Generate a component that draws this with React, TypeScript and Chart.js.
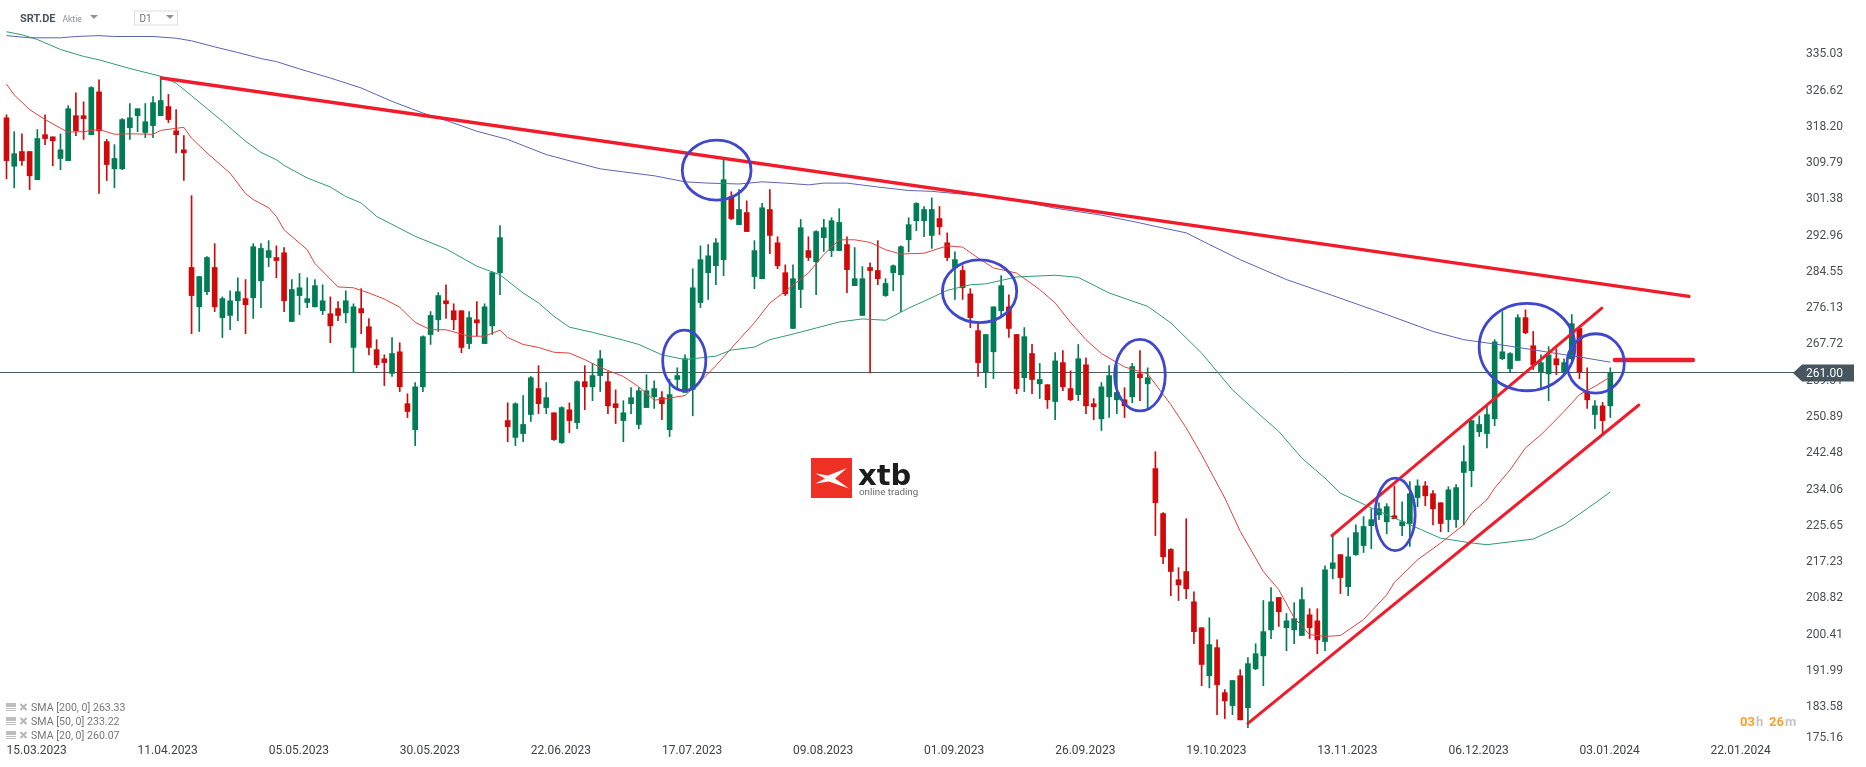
import React, { useEffect, useRef } from "react";
import { Chart, registerables } from "chart.js";

Chart.register(...registerables);

const dateLabels = ["15.03.2023","11.04.2023","05.05.2023","30.05.2023","22.06.2023","17.07.2023","09.08.2023","01.09.2023","26.09.2023","19.10.2023","13.11.2023","06.12.2023","03.01.2024","22.01.2024"];
const dateBars = [0,17,34,51,68,85,102,119,136,153,170,187,204,221];
const priceLabels = ["335.03","326.62","318.20","309.79","301.38","292.96","284.55","276.13","267.72","259.31","250.89","242.48","234.06","225.65","217.23","208.82","200.41","191.99","183.58","175.16"];
const priceTicks = [334.66,326.28,317.89,309.51,301.13,292.74,284.36,275.98,267.59,259.21,250.83,242.44,234.06,225.68,217.29,208.91,200.53,192.14,183.76,176.7];

const highs = [
320.7,316.8,316.3,312.2,317.3,320.7,315.6,316.3,322.8,325.8,
323.7,327.2,328.8,315.0,313.8,319.8,323.3,322.1,323.3,324.9,
329.5,325.4,321.9,315.9,302.0,283.3,287.9,290.9,278.6,280.0,
283.0,282.6,290.9,290.9,291.6,290.4,290.0,282.6,284.0,283.0,
282.6,281.4,278.6,277.5,280.0,277.0,280.5,273.6,268.7,265.2,
269.2,268.0,256.2,258.8,269.6,275.2,279.6,281.4,277.0,275.4,
275.2,277.5,277.0,284.4,295.1,254.1,254.1,255.8,260.2,262.7,
258.8,251.8,253.2,254.1,259.2,262.7,263.2,266.2,261.3,257.1,
254.6,257.6,257.6,260.6,259.2,256.7,259.5,262.2,265.2,285.1,
290.4,290.7,292.1,310.3,302.9,303.4,300.8,291.6,300.2,303.4,
292.5,286.0,286.0,296.5,292.5,293.9,296.5,296.9,299.0,292.5,
290.0,285.6,286.5,291.6,282.8,286.0,290.4,296.9,300.4,299.5,
301.5,299.5,293.4,289.0,285.8,280.5,272.4,269.9,276.3,283.5,
279.1,269.9,271.5,267.6,263.2,258.3,265.7,266.2,261.5,267.6,
264.5,255.1,258.8,262.7,262.9,257.6,263.2,266.2,262.2,242.8,
228.7,220.4,216.0,227.3,210.4,202.1,204.4,199.3,187.8,189.9,
192.4,195.2,198.4,208.4,211.4,209.1,205.4,207.9,211.4,206.5,
206.5,216.4,223.6,219.0,222.9,225.9,227.8,229.6,231.0,230.8,
234.9,231.2,235.9,236.3,235.9,233.8,231.0,234.7,235.2,244.2,
250.0,251.1,253.4,268.7,275.2,265.7,274.5,275.6,270.6,265.2,
267.1,266.6,264.3,274.5,271.3,262.2,254.6,254.2,262.2];

const lows = [
305.9,303.8,309.0,303.4,305.7,313.8,308.9,308.0,310.1,315.9,
315.0,316.1,302.5,305.5,303.8,308.0,315.0,316.8,315.4,315.4,
320.5,318.9,311.9,305.5,270.1,270.6,279.1,275.2,269.2,271.0,
273.1,270.1,273.6,276.1,285.6,283.0,275.2,272.9,274.5,276.1,
276.3,274.5,268.0,273.1,272.6,261.1,270.1,265.2,262.2,258.1,
260.2,256.7,250.7,244.2,256.7,267.6,270.6,273.6,271.0,265.7,
266.6,269.6,267.8,269.9,279.1,245.1,244.2,245.1,249.8,251.6,
251.6,245.4,244.7,247.2,248.1,252.5,254.6,256.7,251.6,249.3,
245.1,251.6,248.1,253.0,252.8,250.2,246.3,257.2,256.5,251.1,
276.1,278.0,281.4,283.5,296.4,295.3,293.7,280.5,282.8,288.6,
285.1,278.9,271.3,276.1,287.0,279.1,289.1,287.9,289.3,279.6,
281.2,274.3,261.0,281.4,278.7,280.0,275.2,289.0,293.9,292.5,
289.8,293.0,287.0,278.0,278.0,271.5,260.2,257.6,259.7,273.8,
269.2,256.2,256.7,256.2,255.1,252.8,250.2,256.9,254.6,254.6,
251.6,250.2,247.7,250.7,251.6,250.7,254.1,254.6,253.0,223.4,
216.9,209.5,208.4,208.8,198.4,188.7,188.2,182.0,181.1,182.0,
180.8,179.0,192.4,188.7,199.6,202.4,196.8,198.4,200.3,199.6,
196.1,196.8,213.4,210.0,209.5,218.8,219.5,220.4,227.1,223.8,
227.3,223.4,220.9,230.1,230.3,225.9,224.3,224.3,225.3,225.9,
234.7,246.3,243.7,248.8,264.1,261.1,263.9,270.1,261.8,257.4,
254.6,260.6,260.8,263.9,259.7,252.8,248.1,247.0,250.7];

const opens = [
320.0,308.8,312.2,312.2,305.7,316.1,315.6,310.6,310.1,320.5,
320.5,316.1,326.0,314.5,308.2,308.2,317.7,320.5,316.6,318.2,
320.5,322.6,317.0,312.6,285.4,276.3,279.8,285.4,273.8,274.3,
277.7,278.2,278.4,282.3,287.7,287.7,288.8,272.9,278.9,277.3,
276.3,275.4,274.7,275.9,274.9,266.9,275.9,271.7,266.4,264.3,
260.9,265.9,253.9,247.9,257.8,269.9,273.3,277.7,275.4,275.4,
267.8,273.3,267.8,271.9,284.2,250.0,246.1,247.0,251.4,257.4,
253.0,251.8,244.9,252.5,249.5,259.0,257.8,260.4,259.0,253.9,
250.0,253.9,249.1,253.0,255.5,255.3,247.9,259.5,256.5,257.2,
277.3,284.2,285.8,287.2,301.8,295.3,298.1,283.3,282.8,298.8,
291.1,284.2,271.3,280.3,289.3,286.7,292.3,289.3,289.3,290.7,
281.2,274.3,285.4,284.7,278.9,284.2,283.7,291.8,296.2,296.2,
292.8,296.7,291.1,285.4,284.7,279.3,270.8,261.3,265.9,275.4,
276.3,269.9,259.9,265.5,258.5,258.3,254.4,263.4,257.4,256.0,
262.9,253.9,250.4,255.5,254.8,254.8,255.5,260.8,258.5,238.9,
228.5,220.2,213.2,215.1,208.1,202.1,191.0,197.5,187.1,184.1,
191.0,183.6,192.6,195.6,201.6,209.1,202.1,201.6,200.3,205.1,
203.7,198.9,215.8,219.0,211.6,219.0,221.1,225.7,228.2,226.6,
228.0,225.7,226.2,232.2,234.9,233.1,231.0,227.1,227.1,238.0,
238.4,247.4,247.0,250.4,264.3,262.0,263.9,273.8,267.3,261.3,
260.8,264.3,261.3,264.3,271.3,256.7,251.4,253.4,253.4];

const closes = [
310.1,311.7,310.1,306.6,315.2,315.2,314.7,312.6,322.1,317.0,
319.8,327.0,317.0,309.2,310.6,319.6,320.0,322.1,319.1,323.5,
324.0,319.6,316.1,311.9,278.9,283.3,287.7,276.3,278.2,277.7,
279.8,276.8,290.2,289.8,289.3,287.0,277.7,280.3,280.7,278.2,
281.2,277.7,271.9,274.3,277.7,276.3,274.9,266.9,262.9,263.4,
265.5,257.8,252.1,257.8,269.4,274.3,278.9,277.0,273.3,266.9,
273.8,272.6,276.3,284.2,292.3,248.6,253.9,249.1,259.9,253.9,
255.3,245.6,253.0,250.0,259.0,257.8,260.4,264.3,253.4,253.0,
251.8,255.3,256.9,256.9,257.4,253.9,256.0,260.4,264.3,280.7,
287.2,288.1,291.1,305.7,296.7,298.8,293.7,289.3,299.2,292.8,
285.8,279.3,282.8,294.6,287.7,293.7,294.6,296.2,295.8,284.9,
282.8,282.8,284.7,282.8,281.7,285.8,290.2,295.3,300.2,298.8,
298.8,294.8,287.7,287.2,280.7,273.8,263.4,269.9,276.3,281.2,
271.3,257.4,269.4,259.5,259.5,254.8,263.8,257.8,254.8,264.3,
253.4,253.2,257.8,260.4,256.5,253.4,262.5,259.9,259.9,231.0,
218.5,215.1,212.0,211.1,201.2,193.6,198.2,188.9,185.2,189.9,
180.8,193.8,196.1,201.2,208.1,205.8,203.7,204.2,208.6,202.1,
199.3,215.5,217.1,213.7,218.5,224.1,225.5,227.1,229.6,230.1,
227.3,226.6,233.1,234.9,232.6,229.6,226.2,234.0,234.5,240.5,
250.0,249.1,251.4,268.2,265.9,265.5,273.8,270.3,262.9,263.4,
265.2,262.9,263.4,272.4,261.3,254.8,253.4,250.0,261.0];

const sma20Bars = [0,1,3,5,7,8,10,12,14,16,19,20,23,24,26,29,31,32,34,35,36,39,40,43,45,47,49,51,53,55,57,60,62,64,65,67,69,71,73,75,77,80,82,84,86,88,90,92,95,97,99,101,104,106,108,110,112,114,116,119,122,124,126,128,131,134,136,138,140,142,145,148,151,153,155,158,160,163,165,167,169,171,173,176,179,180,183,186,189,190,192,193,195,197,199,202,204,206,208];
const sma20Values = [327.8,325.3,321.9,319.6,317.6,316.7,316.8,317.3,316.2,316.3,316.2,317.1,317.8,315.3,311.9,307.2,302.5,301.1,299.2,297.2,294.1,289.5,286.3,280.9,280.7,279.5,278.1,276.2,272.7,271.0,271.0,269.5,269.5,270.9,269.2,267.6,266.9,265.8,265.6,264.1,262.3,260.2,257.8,254.7,255.2,255.8,259.1,262.7,268.7,272.6,277.2,279.9,284.1,288.4,291.8,291.8,291.2,289.5,288.5,288.7,290.4,290.1,287.6,285.3,284.1,280.3,277.2,272.7,268.7,265.5,262.4,260.8,253.7,248.3,242.1,232.1,224.4,215.1,210.9,204.4,200.5,200.1,200.3,204.0,209.7,212.6,217.8,221.7,225.9,228.6,231.7,234.4,238.6,243.7,246.7,252.1,256.0,257.9,260.1];

const sma50Bars = [0,2,4,7,10,12,16,20,22,24,28,31,33,35,36,39,42,44,46,48,53,57,61,64,67,69,71,73,76,78,80,82,85,88,92,94,97,99,102,105,108,111,114,117,119,122,125,127,131,136,139,143,148,151,155,159,163,165,168,171,173,177,181,186,190,192,198,202,206,208];
const sma50Values = [339.9,339.2,338.1,335.8,334.2,333.4,331.4,329.6,328.0,325.1,319.2,314.6,312.0,310.3,309.0,306.1,304.0,301.8,300.3,297.2,292.6,289.7,285.7,283.7,279.5,277.2,274.1,271.6,270.4,269.5,268.6,267.6,265.2,264.1,264.9,266.3,267.0,268.7,270.0,271.4,272.8,273.5,273.2,276.0,277.6,280.1,281.4,281.6,283.2,283.6,283.1,279.5,276.4,272.6,265.6,257.1,250.6,247.5,241.3,236.7,233.2,229.8,226.7,222.8,221.7,221.3,222.6,225.9,230.9,233.5];

const sma200Bars = [0,3,7,9,12,14,19,22,24,27,30,33,35,38,42,46,50,54,57,61,65,70,74,77,80,84,88,91,95,98,101,104,106,109,113,117,120,123,129,133,136,142,147,149,153,156,160,166,172,179,185,189,195,200,204,208];
const sma200Values = [339.0,338.5,338.5,338.8,339.0,338.8,338.8,338.4,337.8,336.4,335.1,333.7,333.0,331.3,329.2,326.9,323.8,321.1,319.4,316.9,315.0,311.5,309.6,308.2,307.5,306.6,305.2,304.9,304.7,305.2,304.9,304.5,304.9,304.9,304.0,303.2,303.0,302.5,301.5,300.2,299.1,297.5,295.7,294.9,293.4,290.7,287.2,282.6,278.9,274.5,270.6,268.7,267.2,265.8,264.7,263.5];

const resistanceBars = [20.1,218.2];
const resistancePrices = [329.2,278.7];
const channelTopBars = [171.9,206.9];
const channelTopPrices = [223.4,276.0];
const channelBottomBars = [161,211.7];
const channelBottomPrices = [180.0,253.6];
const levelBars = [208.6,218.7];
const levelPrices = [264.0,264.0];

// marker rings: centre bar, centre price, half width in bars, half height in price
const ringBars = [92.1,87.9,126.2,147,180.1,197.2,206.1];
const ringPrices = [307.9,263.9,279.9,260.5,228.3,267.0,263.2];
const ringBarRadii = [4.46,2.8,4.82,3.28,2.59,6.21,3.71];
const ringPriceRadii = [6.94,7.0,7.24,8.28,8.39,10.1,6.87];

const lastPrice = 261.0;
const lastPriceLabel = "261.00";
const smaLegend = ["SMA [200, 0] 263.33","SMA [50, 0] 233.22","SMA [20, 0] 260.07"];

const UP = "#007d55";
const DOWN = "#cf0a0a";
const zip = (xs: number[], ys: number[]) => xs.map((x, i) => ({ x, y: ys[i] }));

const overlay = {
  id: "overlay",
  beforeDatasetsDraw(chart: any) {
    const { ctx, scales } = chart;
    const y = Math.floor(scales.y.getPixelForValue(lastPrice)) + 0.5;
    ctx.save();
    ctx.strokeStyle = "#4b5962";
    ctx.lineWidth = 1;
    ctx.beginPath();
    ctx.moveTo(0, y);
    ctx.lineTo(1794, y);
    ctx.stroke();
    ctx.restore();
  },
  afterDatasetsDraw(chart: any) {
    const { ctx, scales } = chart;
    ctx.save();
    ctx.strokeStyle = "#3f47cc";
    ctx.lineWidth = 2.8;
    ringBars.forEach((b, i) => {
      const cx = scales.x.getPixelForValue(b);
      const cy = scales.y.getPixelForValue(ringPrices[i]);
      const rx = Math.abs(scales.x.getPixelForValue(b + ringBarRadii[i]) - cx);
      const ry = Math.abs(scales.y.getPixelForValue(ringPrices[i] + ringPriceRadii[i]) - cy);
      ctx.beginPath();
      ctx.ellipse(cx, cy, rx, ry, 0, 0, Math.PI * 2);
      ctx.stroke();
    });
    ctx.restore();
  },
  afterDraw(chart: any) {
    const { ctx, scales } = chart;
    const y = scales.y.getPixelForValue(lastPrice);
    ctx.save();
    // last price flag
    ctx.fillStyle = "#47555f";
    ctx.beginPath();
    ctx.moveTo(1793, y);
    ctx.lineTo(1802, y - 8.5);
    ctx.lineTo(1854, y - 8.5);
    ctx.lineTo(1854, y + 8.5);
    ctx.lineTo(1802, y + 8.5);
    ctx.closePath();
    ctx.fill();
    ctx.fillStyle = "#ffffff";
    ctx.font = "12px Roboto";
    ctx.textAlign = "left";
    ctx.textBaseline = "middle";
    ctx.fillText(lastPriceLabel, 1806, y + 1);

    // header
    ctx.fillStyle = "#4a5560";
    ctx.font = "bold 11px Roboto";
    ctx.fillText("SRT.DE", 20, 19);
    ctx.fillStyle = "#8a8f94";
    ctx.font = "8.5px Roboto";
    ctx.fillText("Aktie", 62.5, 19.5);
    const tri = (x: number, yy: number, w: number, h: number) => {
      ctx.fillStyle = "#8f9499";
      ctx.beginPath();
      ctx.moveTo(x, yy);
      ctx.lineTo(x + w, yy);
      ctx.lineTo(x + w / 2, yy + h);
      ctx.closePath();
      ctx.fill();
    };
    tri(90, 15, 8, 4);
    ctx.strokeStyle = "#dddddd";
    ctx.lineWidth = 1;
    ctx.strokeRect(134.5, 11, 43, 14);
    ctx.fillStyle = "#6f757a";
    ctx.font = "10px Roboto";
    ctx.fillText("D1", 139.5, 19.5);
    tri(166, 15, 8, 4);

    // logo
    ctx.fillStyle = "#ee3124";
    ctx.fillRect(811, 458, 41, 40);
    ctx.fillStyle = "#ffffff";
    ctx.beginPath();
    [[815.5,473.5],[828,475.5],[847,468],[835,478.5],[849,488.5],[829,481.5],[815.5,483.5],[825,478.5]].forEach(([px, py], i) => {
      if (i === 0) ctx.moveTo(px, py); else ctx.lineTo(px, py);
    });
    ctx.closePath();
    ctx.fill();
    ctx.fillStyle = "#1c1c1c";
    ctx.font = "bold 29px 'DejaVu Sans'";
    ctx.textBaseline = "alphabetic";
    ctx.fillText("xtb", 858, 485);
    ctx.fillStyle = "#6a6a6a";
    ctx.font = "9.8px Roboto";
    ctx.fillText("online trading", 859, 495);

    // legend
    ctx.textBaseline = "middle";
    smaLegend.forEach((t, i) => {
      const ly = 708 + i * 14;
      ctx.fillStyle = "#bdbdbd";
      ctx.fillRect(6, ly - 5, 10, 4);
      ctx.fillRect(6, ly, 10, 1);
      ctx.fillRect(6, ly + 2, 10, 1);
      ctx.strokeStyle = "#b5b5b5";
      ctx.lineWidth = 2;
      ctx.beginPath();
      ctx.moveTo(20.5, ly - 4);
      ctx.lineTo(26.5, ly + 2);
      ctx.moveTo(26.5, ly - 4);
      ctx.lineTo(20.5, ly + 2);
      ctx.stroke();
      ctx.fillStyle = "#777777";
      ctx.font = "10.6px Roboto";
      ctx.fillText(t, 31, ly + 0.5);
    });

    // countdown
    ctx.font = "bold 13px Roboto";
    ctx.fillStyle = "#f9a02c";
    ctx.fillText("03", 1740, 722.5);
    ctx.fillText("26", 1769, 722.5);
    ctx.fillStyle = "#c4c4c4";
    ctx.fillText("h", 1756, 722.5);
    ctx.fillText("m", 1785, 722.5);
    ctx.restore();
  },
};

export default function App() {
  const ref = useRef<HTMLCanvasElement | null>(null);
  useEffect(() => {
    document.body.style.margin = "0";
    const bars = highs.map((_, i) => i);
    const colors = bars.map((i) => (closes[i] >= opens[i] ? UP : DOWN));
    const lineBase = { type: "line", pointRadius: 0, tension: 0, fill: false };
    const chart = new Chart(ref.current as HTMLCanvasElement, {
      type: "bar",
      data: {
        datasets: [
          { ...lineBase, label: "Resistance", data: zip(resistanceBars, resistancePrices), borderColor: "#f01c2c", borderWidth: 3.4, borderCapStyle: "round", order: 0 },
          { ...lineBase, label: "Channel top", data: zip(channelTopBars, channelTopPrices), borderColor: "#f01c2c", borderWidth: 3, borderCapStyle: "round", order: 0 },
          { ...lineBase, label: "Channel bottom", data: zip(channelBottomBars, channelBottomPrices), borderColor: "#f01c2c", borderWidth: 3, borderCapStyle: "round", order: 0 },
          { ...lineBase, label: "Level", data: zip(levelBars, levelPrices), borderColor: "#f01c2c", borderWidth: 4.5, borderCapStyle: "round", order: 0 },
          { ...lineBase, label: "SMA 200", data: zip(sma200Bars, sma200Values), borderColor: "#5d62b5", borderWidth: 1, order: 1 },
          { ...lineBase, label: "SMA 50", data: zip(sma50Bars, sma50Values), borderColor: "#2f9a76", borderWidth: 1, order: 1 },
          { ...lineBase, label: "SMA 20", data: zip(sma20Bars, sma20Values), borderColor: "#e2403f", borderWidth: 1, order: 1 },
          { label: "Body", data: bars.map((i) => ({ x: i, y: [opens[i], closes[i]] })), backgroundColor: colors, barThickness: 5, grouped: false, order: 2, borderSkipped: false },
          { label: "Wick", data: bars.map((i) => ({ x: i, y: [lows[i], highs[i]] })), backgroundColor: colors, barThickness: 1, grouped: false, order: 3, borderSkipped: false },
        ],
      } as any,
      options: {
        animation: false,
        responsive: false,
        devicePixelRatio: 1,
        layout: { padding: 0 },
        plugins: { legend: { display: false }, tooltip: { enabled: false } },
        scales: {
          x: {
            type: "linear",
            offset: false,
            min: -0.843,
            max: 232.6,
            grid: { display: false, drawTicks: false },
            border: { display: false },
            afterBuildTicks: (s: any) => { s.ticks = dateBars.map((value) => ({ value })); },
            afterFit: (s: any) => { s.height = 23; s.paddingLeft = 0; s.paddingRight = 0; },
            ticks: {
              autoSkip: false,
              maxRotation: 0,
              minRotation: 0,
              align: "start",
              padding: 0,
              color: "#3e4347",
              font: { family: "Roboto", size: 12 },
              callback: (_v: any, i: number) => dateLabels[i],
            },
          },
          y: {
            position: "right",
            min: 175.22,
            max: 347.24,
            grid: { display: false, drawTicks: false },
            border: { display: false },
            afterBuildTicks: (s: any) => { s.ticks = priceTicks.map((value) => ({ value })); },
            afterFit: (s: any) => { s.width = 66; s.paddingTop = 0; s.paddingBottom = 0; },
            ticks: {
              autoSkip: false,
              padding: 6,
              color: "#4a4f53",
              font: { family: "Roboto", size: 12 },
              callback: (_v: any, i: number) => priceLabels[i],
            },
          },
        },
      } as any,
      plugins: [overlay],
    } as any);
    return () => chart.destroy();
  }, []);
  return (
    <div style={{ position: "fixed", left: 0, top: 0, width: 1866, height: 767, background: "#ffffff" }}>
      <canvas ref={ref} width={1866} height={767} style={{ display: "block" }} />
    </div>
  );
}
